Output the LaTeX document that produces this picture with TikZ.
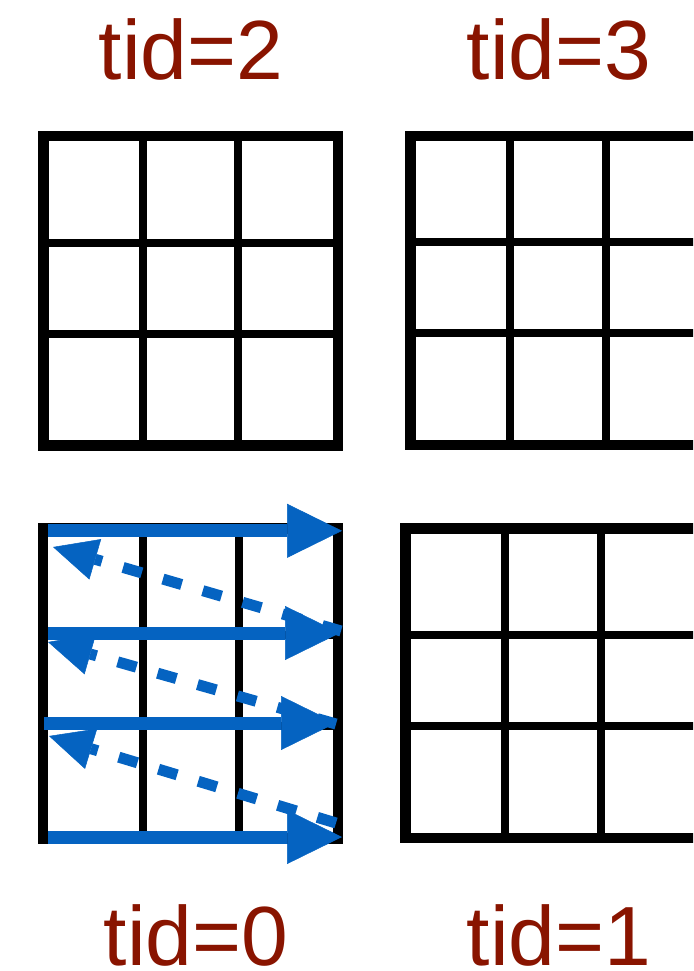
\documentclass[tikz,border=0pt]{standalone}
\usepackage{fontspec}
\setmainfont{Liberation Sans}
\usetikzlibrary{arrows.meta}
\definecolor{tidred}{RGB}{137,20,0}
\definecolor{flowblue}{RGB}{5,99,193}
\tikzset{
  gridouter/.style={line width=10.7pt, draw=black},
  gridinner/.style={line width=8pt, draw=black},
  tidlabel/.style={text=tidred, font=\fontsize{84}{84}\selectfont, anchor=base west, inner sep=0pt, text depth=0pt},
  solidflow/.style={line width=13pt, draw=flowblue, -{Triangle[length=55pt,width=54pt,line width=0.5pt]}},
  dashflow/.style={line width=11pt, draw=flowblue, dash pattern=on 19.5pt off 22pt, -{Triangle[length=44pt,width=42pt,line width=0.5pt]}}
}
\newcommand{\tgrid}[8]{%
  \draw[gridinner] (#2,#5) -- (#2,#8);
  \draw[gridinner] (#3,#5) -- (#3,#8);
  \draw[gridinner] (#1,#6) -- (#4,#6);
  \draw[gridinner] (#1,#7) -- (#4,#7);
  \draw[gridouter] (#1,#5) rectangle (#4,#8);
}
\begin{document}
\begin{tikzpicture}[x=1pt,y=-1pt]
\useasboundingbox (0,0) rectangle (693,971);
\clip (0,0) rectangle (693,971);
% grids
\tgrid{43.7}{142.8}{238.3}{338}{136}{242.7}{333.5}{445.3}
\tgrid{410.5}{510}{606}{705}{136}{242}{333}{445}
\tgrid{43}{142.5}{239}{338}{528.7}{635}{726}{838.5}
\tgrid{405.5}{505}{601}{700}{528.7}{635.3}{726}{838}
% labels
\node[tidlabel] (t2) at (98.6,80) {tid=2};
\node[tidlabel] (t3) at (466.6,80) {tid=3};
\node[tidlabel] (t0) at (103.6,965) {tid=0};
\node[tidlabel] (t1) at (466.6,965) {tid=1};
% flow coordinates
\coordinate (a1s) at (48,530.8);  \coordinate (a1e) at (342,530.8);
\coordinate (a2s) at (48,633);    \coordinate (a2e) at (340,633);
\coordinate (a3s) at (44,723);    \coordinate (a3e) at (336,723);
\coordinate (a4s) at (48,837);    \coordinate (a4e) at (342,837);
\coordinate (d1s) at (341,631);   \coordinate (d1e) at (53,547);
\coordinate (d2s) at (336,724);   \coordinate (d2e) at (48,642);
\coordinate (d3s) at (336,823);   \coordinate (d3e) at (49,736);
% arrows
\draw[solidflow] (a1s) -- (a1e);
\draw[solidflow] (a2s) -- (a2e);
\draw[solidflow] (a3s) -- (a3e);
\draw[solidflow] (a4s) -- (a4e);
\draw[dashflow] (d1s) -- (d1e);
\draw[dashflow] (d2s) -- (d2e);
\draw[dashflow] (d3s) -- (d3e);
\end{tikzpicture}
\end{document}
